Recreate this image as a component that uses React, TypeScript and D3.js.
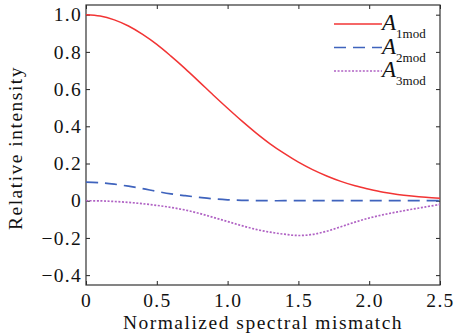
import React, { useEffect, useRef } from "react";
import * as d3 from "d3";

// sample positions (normalized spectral mismatch)
const xs = [
  0, 0.1, 0.2, 0.3, 0.4, 0.5, 0.6, 0.7, 0.8, 0.9, 1.0, 1.1, 1.2, 1.3, 1.4,
  1.5, 1.6, 1.7, 1.8, 1.9, 2.0, 2.1, 2.2, 2.3, 2.4, 2.5,
];

const a1mod = [
  1.0, 0.993, 0.972, 0.939, 0.894, 0.84, 0.777, 0.71, 0.639, 0.567, 0.497,
  0.429, 0.365, 0.306, 0.254, 0.207, 0.167, 0.133, 0.104, 0.08, 0.062, 0.046,
  0.034, 0.025, 0.018, 0.013,
];

const a2mod = [
  0.1, 0.097, 0.089, 0.078, 0.065, 0.05, 0.037, 0.027, 0.018, 0.01, 0.005,
  0.002, 0.001, 0, 0, 0, 0, 0, 0, 0, 0, 0, 0, 0, 0, 0,
];

const a3mod = [
  0, -0.001, -0.004, -0.009, -0.016, -0.025, -0.036, -0.05, -0.068, -0.09,
  -0.112, -0.134, -0.154, -0.169, -0.18, -0.187, -0.181, -0.164, -0.14,
  -0.115, -0.093, -0.075, -0.06, -0.046, -0.033, -0.02,
];

const xTicks = [0, 0.5, 1.0, 1.5, 2.0, 2.5];
const yTicks = [-0.4, -0.2, 0, 0.2, 0.4, 0.6, 0.8, 1.0];

const series = [
  { name: "1mod", values: a1mod, color: "#f23434", dash: "none", w: 1.5 },
  { name: "2mod", values: a2mod, color: "#3f63bd", dash: "12,7", w: 1.7 },
  { name: "3mod", values: a3mod, color: "#b062c4", dash: "2,1.6", w: 1.7 },
];

const App = () => {
  const svgRef = useRef<SVGSVGElement>(null);

  useEffect(() => {
    document.body.style.margin = "0";
    const W = 473;
    const H = 334;
    const margin = { top: 5, right: 33, bottom: 49, left: 86 };
    const width = W - margin.left - margin.right;
    const height = H - margin.top - margin.bottom;
    const font = "'Liberation Serif', 'Times New Roman', serif";
    const fs = 19.5;

    const root = d3.select(svgRef.current);
    root.selectAll("*").remove();
    root.attr("width", W).attr("height", H);

    const svg = root
      .append("g")
      .attr("transform", `translate(${margin.left},${margin.top})`);

    const x = d3.scaleLinear().domain([0, 2.5]).range([0, width]);
    const y = d3.scaleLinear().domain([-0.453, 1.052]).range([height, 0]);

    const fmtY = (d) => (d === 0 ? "0" : d.toFixed(1).replace("-", "\u2212"));
    const fmtX = (d) => (d === 0 ? "0" : d.toFixed(1));

    // axes with inward ticks on all four sides
    const styleAxis = (g) => {
      g.select(".domain").remove();
      g.selectAll("line").attr("stroke", "#222");
      g.selectAll("text")
        .attr("font-family", font)
        .attr("font-size", fs)
        .attr("letter-spacing", 1.3)
        .attr("fill", "#111");
    };

    svg
      .append("g")
      .attr("transform", `translate(0,${height})`)
      .call(d3.axisBottom(x).tickValues(xTicks).tickFormat(fmtX).tickSizeInner(-4).tickSizeOuter(0).tickPadding(8))
      .call(styleAxis);

    svg
      .append("g")
      .call(d3.axisTop(x).tickValues(xTicks).tickFormat(() => "").tickSizeInner(-4).tickSizeOuter(0))
      .call(styleAxis);

    svg
      .append("g")
      .call(d3.axisLeft(y).tickValues(yTicks).tickFormat(fmtY).tickSizeInner(-4).tickSizeOuter(0).tickPadding(4))
      .call(styleAxis);

    svg
      .append("g")
      .attr("transform", `translate(${width},0)`)
      .call(d3.axisRight(y).tickValues(yTicks).tickFormat(() => "").tickSizeInner(-4).tickSizeOuter(0))
      .call(styleAxis);

    // frame
    svg
      .append("rect")
      .attr("x", 0)
      .attr("y", 0)
      .attr("width", width)
      .attr("height", height)
      .attr("fill", "none")
      .attr("stroke", "#333")
      .attr("stroke-width", 1.2);

    // curves
    series.forEach((s) => {
      const line = d3
        .line<number>()
        .x((_, i) => x(xs[i]))
        .y((d) => y(d))
        .curve(d3.curveCatmullRom);
      svg
        .append("path")
        .datum(s.values)
        .attr("fill", "none")
        .attr("stroke", s.color)
        .attr("stroke-width", s.w)
        .attr("stroke-dasharray", s.dash)
        .attr("d", line);
    });

    // legend
    const legend = svg.append("g").attr("transform", `translate(${248},${19})`);
    series.forEach((s, i) => {
      const row = legend.append("g").attr("transform", `translate(0,${i * 23.5})`);
      row
        .append("line")
        .attr("x1", 0)
        .attr("x2", 48)
        .attr("y1", 0)
        .attr("y2", 0)
        .attr("stroke", s.color)
        .attr("stroke-width", s.w)
        .attr("stroke-dasharray", s.dash);
      const t = row
        .append("text")
        .attr("x", 48)
        .attr("y", 6)
        .attr("font-family", font)
        .attr("font-size", 23)
        .attr("fill", "#111");
      t.append("tspan").attr("font-style", "italic").text("A");
      t.append("tspan")
        .attr("font-size", 13)
        .attr("dy", 8)
        .text(s.name);
    });

    // axis titles
    svg
      .append("text")
      .attr("x", width / 2)
      .attr("y", height + 43.5)
      .attr("text-anchor", "middle")
      .attr("font-family", font)
      .attr("font-size", fs)
      .attr("letter-spacing", 1.5)
      .attr("fill", "#111")
      .text("Normalized spectral mismatch");

    svg
      .append("text")
      .attr("transform", `translate(${-64},${height / 2 + 3}) rotate(-90)`)
      .attr("text-anchor", "middle")
      .attr("font-family", font)
      .attr("font-size", fs)
      .attr("letter-spacing", 1.5)
      .attr("fill", "#111")
      .text("Relative intensity");
  }, []);

  return (
    <div>
      <svg ref={svgRef} style={{ display: "block" }} />
    </div>
  );
};

export default App;
